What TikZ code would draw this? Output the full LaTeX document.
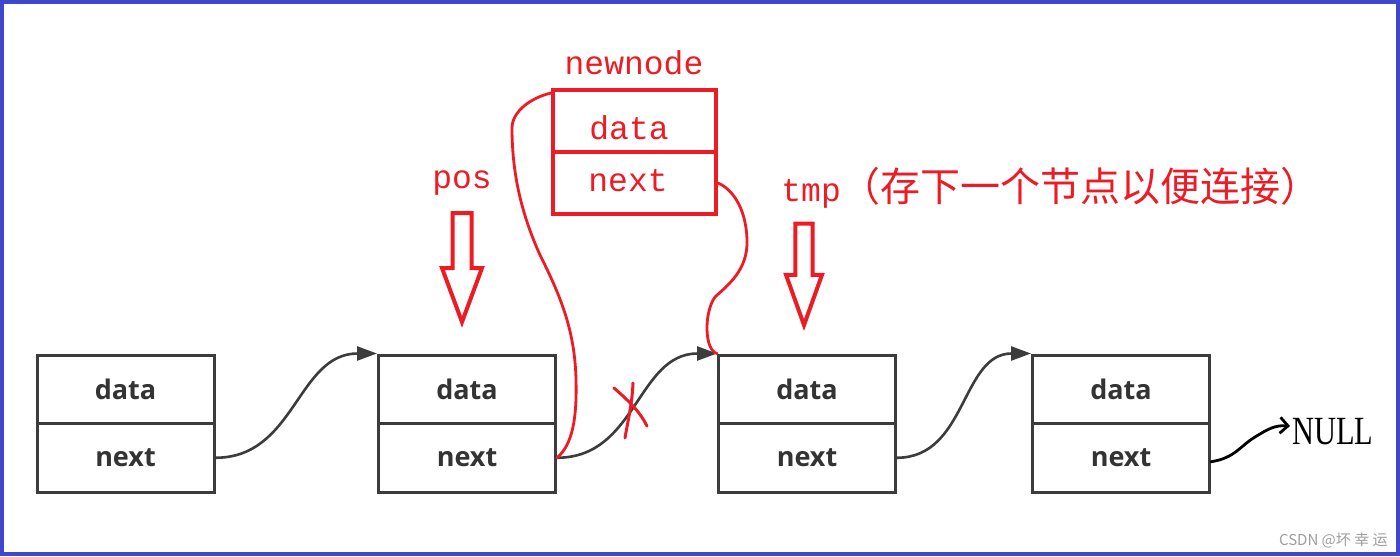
\documentclass[tikz,border=0pt]{standalone}
\usepackage{fontspec}
\usepackage{graphicx}
\usetikzlibrary{arrows.meta,calc}
\setmainfont{Liberation Serif}
\newfontfamily\boxfont{Open Sans}
\newfontfamily\redmono{Liberation Mono}
\newfontfamily\cjk{Noto Sans CJK SC}
\definecolor{pred}{HTML}{ED1C24}
\definecolor{pblue}{HTML}{3F48CC}
\definecolor{boxgray}{HTML}{3C3C3C}
\definecolor{txtgray}{HTML}{333333}
\begin{document}
\begin{tikzpicture}[x=0.5pt,y=-0.5pt,
  cell/.style={draw=boxgray, line width=1.5pt, minimum width=88.5pt, minimum height=34.25pt, inner sep=0pt,
    font=\boxfont\bfseries\fontsize{13.5}{15}\selectfont, text=txtgray},
  rcell/.style={draw=pred, line width=2pt, minimum width=81.5pt, minimum height=31pt, inner sep=0pt},
  redtxt/.style={text=pred, inner sep=0pt, font=\redmono\fontsize{16.5}{18}\selectfont},
  link/.style={draw=boxgray, line width=1.3pt, -{Triangle[length=10pt,width=7pt]}},
  redline/.style={draw=pred, line width=1.4pt, line cap=round, line join=round},
  downarrow/.pic={\draw[pred, line width=2pt, line join=miter]
     (0,0) -- (-20,-54) -- (-9.5,-54) -- (-9.5,-109) -- (9.5,-109) -- (9.5,-54) -- (20,-54) -- cycle;}
]
\useasboundingbox (0,0) rectangle (1400,556);
\fill[white] (0,0) rectangle (1400,556);
\draw[pblue, line width=2pt] (2,2) rectangle (1398,554);

% linked list
\node[cell] (d1) at (125.5,389.25) {data};
\node[cell] (n1) at (125.5,457.75) {next};
\node[cell] (d2) at (467,389.25) {data};
\node[cell] (n2) at (467,457.75) {next};
\node[cell] (d3) at (807,389.25) {data};
\node[cell] (n3) at (807,457.75) {next};
\node[cell] (d4) at (1121,389.25) {data};
\node[cell] (n4) at (1121,457.75) {next};

\draw[link] (n1.east) .. controls +(80,0) and +(-80,0) .. (d2.north west);
\draw[link] (n2.east) .. controls +(80,0) and +(-80,0) .. (d3.north west);
\draw[link] (n3.east) .. controls +(70,0) and +(-70,0) .. (d4.north west);

% NULL
\node[anchor=west, inner sep=0pt, font=\fontsize{20}{22}\selectfont] (nulltxt) at (1292,432) {\scalebox{0.76}[1]{NULL}};
\draw[line width=1.4pt, line cap=round, -{Straight Barb[length=4pt,width=8pt]}]
  ($(n4.east)+(0,4)$) .. controls (1235,458) and (1240,446) .. (1255,437)
  .. controls (1268,429) and (1275,425) .. ($(nulltxt.west)+(-2,-6)$);

% new node
\node[rcell] (nnd) at (634.5,121) {};
\node[rcell] (nnn) at (634.5,183) {};
\node[redtxt] (nndt) at (629,128) {data};
\node[redtxt] (nnnt) at (628,181) {next};
\node[redtxt] (newnode) at (634,63) {newnode};

% labels and pointer arrows
\node[redtxt] (pos) at (462,183) {pos};
\node[anchor=west, inner sep=0pt, text=pred] (tmp) at (781,188)
  {{\redmono\fontsize{16.5}{18}\selectfont tmp}{\cjk\fontsize{20}{24}\selectfont （存下一个节点以便连接）}};
\pic at (462,322) {downarrow};
\pic[xscale=0.9,yscale=0.93] at (804,325) {downarrow};

% red hand-drawn links
\draw[redline] ($(nnd.north west)+(0,5)$) .. controls (530,98) and (512,112) .. (512,128)
  .. controls (512,175) and (522,215) .. (540,255)
  .. controls (560,295) and (575,330) .. (576,380)
  .. controls (577,420) and (572,445) .. (n2.east);
\draw[redline] (nnn.east) .. controls (730,188) and (746,205) .. (747,240)
  .. controls (748,270) and (728,285) .. (715,297)
  .. controls (704,312) and (704,350) .. (d3.north west);

% cross
\draw[redline, line width=1.5pt] (614,388) .. controls (630,402) and (640,412) .. (647,426);
\draw[redline, line width=1.5pt] (633,383) .. controls (632,405) and (628,420) .. (625,438);

% watermark
\node[anchor=east, inner sep=0pt, text=black!38, font=\cjk\fontsize{7.5}{9}\selectfont] (wm) at (1388,540) {CSDN @坏 幸 运};
\end{tikzpicture}
\end{document}
